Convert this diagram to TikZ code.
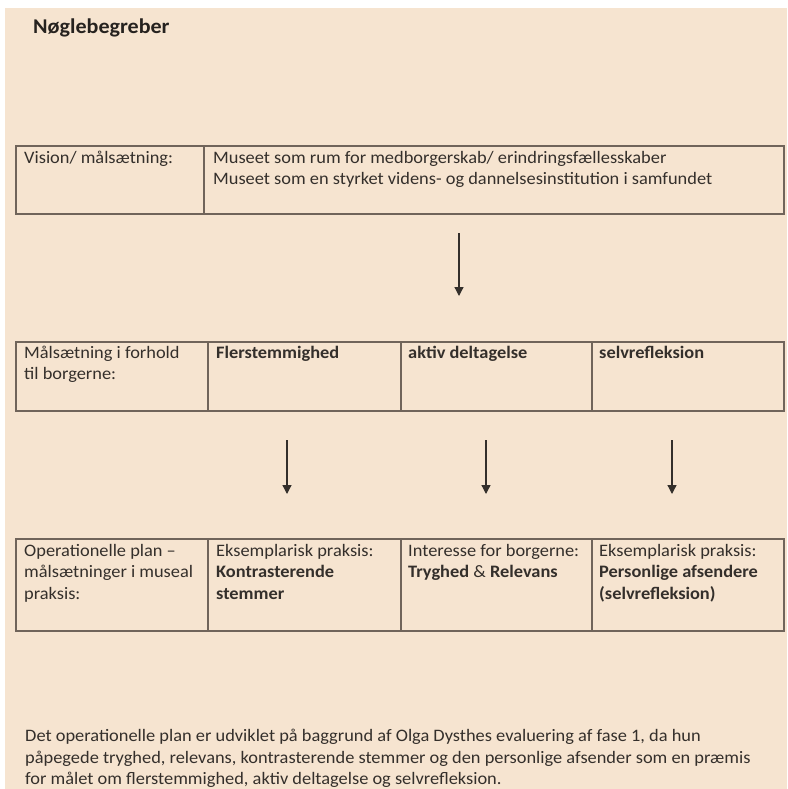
\documentclass[tikz,border=0pt]{standalone}
\usepackage{fontspec}
\setmainfont{Carlito}[FakeStretch=1.05]
\usetikzlibrary{arrows.meta}
\definecolor{bg}{RGB}{246,228,208}
\definecolor{rule}{RGB}{112,100,90}
\definecolor{ink}{RGB}{52,47,43}
\definecolor{titleink}{RGB}{38,34,31}
\tikzset{
  cell/.style={draw=rule, line width=1.5pt, rectangle, inner sep=0pt, anchor=north west},
  txt/.style={anchor=base west, inner sep=0pt, text=ink, font=\fontsize{17.5}{21}\selectfont},
  btxt/.style={txt, font=\fontsize{17.5}{21}\selectfont\bfseries},
  arr/.style={draw=ink, line width=1.3pt, -{Triangle[width=9pt,length=9pt]}},
}
\begin{document}
\begin{tikzpicture}[x=1pt,y=-1pt]
\useasboundingbox (0,0) rectangle (787,789);
\fill[white] (0,0) rectangle (787,789);
\fill[bg] (5,8) rectangle (787,789);

\node[anchor=base west, inner sep=0pt, text=titleink, font=\fontsize{21}{25}\selectfont\bfseries] (title) at (33,34) {Nøglebegreber};

% table 1
\node[cell, minimum width=188pt, minimum height=68pt] (v1) at (15,145) {};
\node[cell, minimum width=580pt, minimum height=68pt] (v2) at (203,145) {};
\node[txt] (v1t) at (24,163) {Vision/ målsætning:};
\node[txt] (v2a) at (213,163) {Museet som rum for medborgerskab/ erindringsfællesskaber};
\node[txt] (v2b) at (213,184) {Museet som en styrket videns- og dannelsesinstitution i samfundet};

% table 2
\node[cell, minimum width=192pt, minimum height=69pt] (m1) at (15,341) {};
\node[cell, minimum width=193pt, minimum height=69pt] (m2) at (207,341) {};
\node[cell, minimum width=191pt, minimum height=69pt] (m3) at (400,341) {};
\node[cell, minimum width=192pt, minimum height=69pt] (m4) at (591,341) {};
\node[txt] (m1a) at (24,358) {Målsætning i forhold};
\node[txt] (m1b) at (24,379) {til borgerne:};
\node[btxt] (m2a) at (216,358) {Flerstemmighed};
\node[btxt] (m3a) at (408,358) {aktiv deltagelse};
\node[btxt] (m4a) at (599,358) {selvrefleksion};

% table 3
\node[cell, minimum width=192pt, minimum height=92pt] (o1) at (15,538) {};
\node[cell, minimum width=193pt, minimum height=92pt] (o2) at (207,538) {};
\node[cell, minimum width=191pt, minimum height=92pt] (o3) at (400,538) {};
\node[cell, minimum width=192pt, minimum height=92pt] (o4) at (591,538) {};
\node[txt] (o1a) at (24,556) {Operationelle plan –};
\node[txt] (o1b) at (24,577) {målsætninger i museal};
\node[txt] (o1c) at (24,599) {praksis:};
\node[txt] (o2a) at (216,556) {Eksemplarisk praksis:};
\node[btxt] (o2b) at (216,577) {Kontrasterende};
\node[btxt] (o2c) at (216,599) {stemmer};
\node[txt] (o3a) at (408,556) {Interesse for borgerne:};
\node[txt] (o3b) at (408,577) {\textbf{Tryghed} \& \textbf{Relevans}};
\node[txt] (o4a) at (599,556) {Eksemplarisk praksis:};
\node[btxt] (o4b) at (599,577) {Personlige afsendere};
\node[btxt] (o4c) at (599,599) {(selvrefleksion)};

% arrows
\coordinate (a1s) at (459,233); \coordinate (a1e) at (459,296);
\coordinate (a2s) at (287,440); \coordinate (a2e) at (287,494);
\coordinate (a3s) at (486,440); \coordinate (a3e) at (486,494);
\coordinate (a4s) at (672,440); \coordinate (a4e) at (672,494);
\draw[arr] (a1s) -- (a1e);
\draw[arr] (a2s) -- (a2e);
\draw[arr] (a3s) -- (a3e);
\draw[arr] (a4s) -- (a4e);

% paragraph
\node[txt] (p1) at (25,741) {Det operationelle plan er udviklet på baggrund af Olga Dysthes evaluering af fase 1, da hun};
\node[txt] (p2) at (25,763) {påpegede tryghed, relevans, kontrasterende stemmer og den personlige afsender som en præmis};
\node[txt] (p3) at (25,784) {for målet om flerstemmighed, aktiv deltagelse og selvrefleksion.};
\end{tikzpicture}
\end{document}
